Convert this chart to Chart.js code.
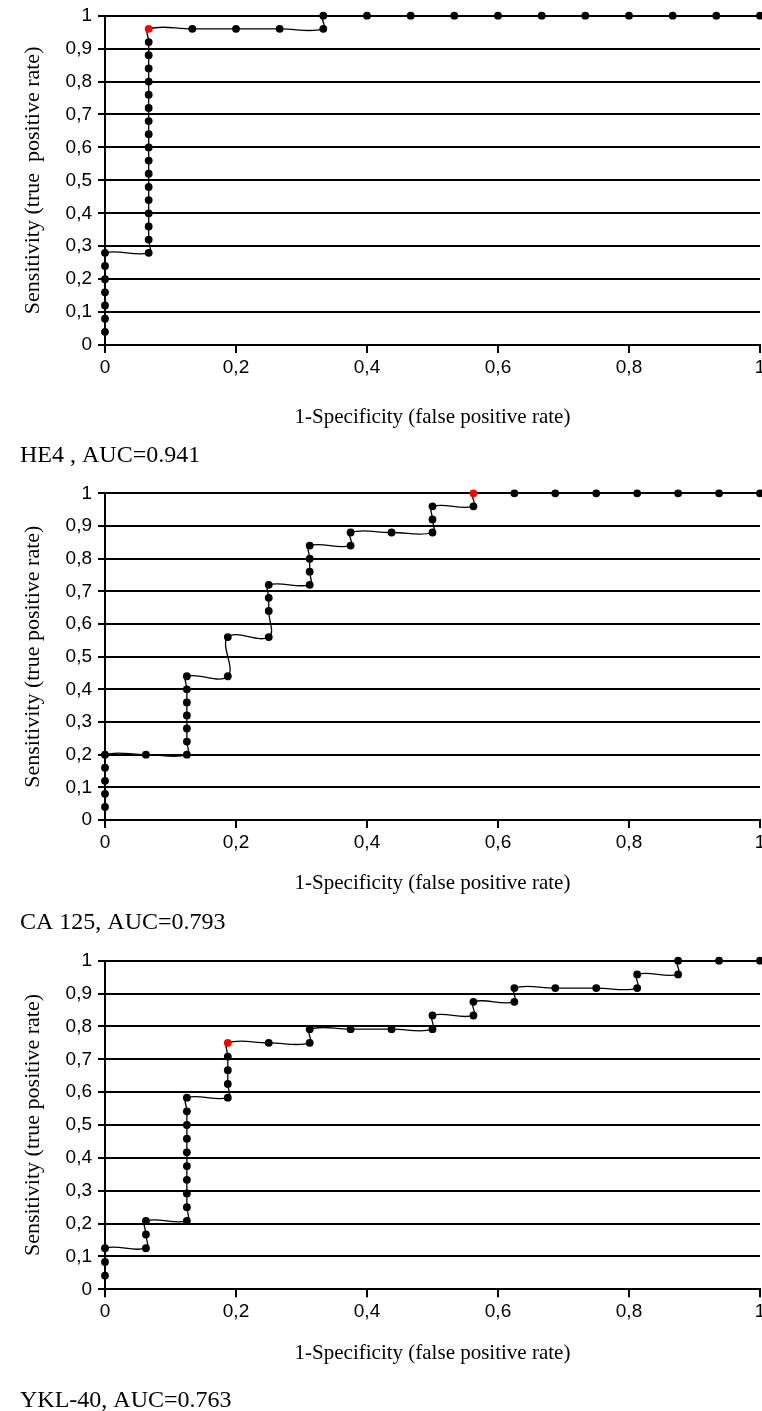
<!DOCTYPE html>
<html>
<head>
<meta charset="utf-8">
<script src="https://cdn.jsdelivr.net/npm/chart.js@4.4.1/dist/chart.umd.min.js"></script>
<style>
html,body{margin:0;padding:0;background:#fff;overflow:hidden;width:762px;height:1411px;}
canvas{position:absolute;left:0;}
</style>
</head>
<body>
<canvas id="c1"></canvas>
<canvas id="c2"></canvas>
<canvas id="c3"></canvas>
<script>
// ---------- text ----------
const xTickLabels = ['0', '0,2', '0,4', '0,6', '0,8', '1'];
const yTickLabels = ['0', '0,1', '0,2', '0,3', '0,4', '0,5', '0,6', '0,7', '0,8', '0,9', '1'];
const xAxisTitle = '1-Specificity (false positive rate)';
const yAxisTitles = ['Sensitivity (true  positive rate)', 'Sensitivity (true positive rate)', 'Sensitivity (true positive rate)'];
const panelLabels = ['HE4 , AUC=0.941', 'CA 125, AUC=0.793', 'YKL-40, AUC=0.763'];

// ---------- HE4 ----------
const he4X = [0, 0, 0, 0, 0, 0, 0,
  0.0667, 0.0667, 0.0667, 0.0667, 0.0667, 0.0667, 0.0667, 0.0667, 0.0667,
  0.0667, 0.0667, 0.0667, 0.0667, 0.0667, 0.0667, 0.0667, 0.0667, 0.0667,
  0.1333, 0.2, 0.2667, 0.3333, 0.3333,
  0.4, 0.4667, 0.5333, 0.6, 0.6667, 0.7333, 0.8, 0.8667, 0.9333, 1];
const he4Y = [0.04, 0.08, 0.12, 0.16, 0.20, 0.24, 0.28,
  0.28, 0.32, 0.36, 0.40, 0.44, 0.48, 0.52, 0.56, 0.60,
  0.64, 0.68, 0.72, 0.76, 0.80, 0.84, 0.88, 0.92, 0.96,
  0.96, 0.96, 0.96, 0.96, 1,
  1, 1, 1, 1, 1, 1, 1, 1, 1, 1];
const he4Cutoff = 24;

// ---------- CA 125 ----------
const ca125X = [0, 0, 0, 0, 0,
  0.0625,
  0.125, 0.125, 0.125, 0.125, 0.125, 0.125, 0.125,
  0.1875, 0.1875,
  0.25, 0.25, 0.25, 0.25,
  0.3125, 0.3125, 0.3125, 0.3125,
  0.375, 0.375,
  0.4375,
  0.5, 0.5, 0.5,
  0.5625, 0.5625,
  0.625, 0.6875, 0.75, 0.8125, 0.875, 0.9375, 1];
const ca125Y = [0.04, 0.08, 0.12, 0.16, 0.20,
  0.20,
  0.20, 0.24, 0.28, 0.32, 0.36, 0.40, 0.44,
  0.44, 0.56,
  0.56, 0.64, 0.68, 0.72,
  0.72, 0.76, 0.80, 0.84,
  0.84, 0.88,
  0.88,
  0.88, 0.92, 0.96,
  0.96, 1,
  1, 1, 1, 1, 1, 1, 1];
const ca125Cutoff = 30;

// ---------- YKL-40 ----------
const ykl40X = [0, 0, 0,
  0.0625, 0.0625, 0.0625,
  0.125, 0.125, 0.125, 0.125, 0.125, 0.125, 0.125, 0.125, 0.125, 0.125,
  0.1875, 0.1875, 0.1875, 0.1875, 0.1875,
  0.25,
  0.3125, 0.3125,
  0.375, 0.4375,
  0.5, 0.5,
  0.5625, 0.5625,
  0.625, 0.625,
  0.6875, 0.75,
  0.8125, 0.8125,
  0.875, 0.875,
  0.9375, 1];
const ykl40Y = [0.0417, 0.0833, 0.125,
  0.125, 0.1667, 0.2083,
  0.2083, 0.25, 0.2917, 0.3333, 0.375, 0.4167, 0.4583, 0.5, 0.5417, 0.5833,
  0.5833, 0.625, 0.6667, 0.7083, 0.75,
  0.75,
  0.75, 0.7917,
  0.7917, 0.7917,
  0.7917, 0.8333,
  0.8333, 0.875,
  0.875, 0.9167,
  0.9167, 0.9167,
  0.9167, 0.9583,
  0.9583, 1,
  1, 1];
const ykl40Cutoff = 20;

const seriesX = [he4X, ca125X, ykl40X];
const seriesY = [he4Y, ca125Y, ykl40Y];
const cutoffs = [he4Cutoff, ca125Cutoff, ykl40Cutoff];

// ---------- layout (pixel placement only) ----------
const panels = [
  {id: 'c1', top: 0,   height: 470, plotTop: 15.7, plotBottom: 345,   xTitleOff: 72,   labelCenter: 456},
  {id: 'c2', top: 470, height: 470, plotTop: 23.3, plotBottom: 350,   xTitleOff: 63,   labelCenter: 453},
  {id: 'c3', top: 940, height: 480, plotTop: 20.7, plotBottom: 349.3, xTitleOff: 63.7, labelCenter: 461}
];
const W = 762, PLOT_LEFT = 105, PAD_LEFT = 20, PAD_RIGHT = 2;
const X_TITLE_SIZE = 21, Y_TITLE_SIZE = 22, LABEL_SIZE = 24, TICK_SIZE = 19;

panels.forEach((p, i) => {
  const cv = document.getElementById(p.id);
  cv.width = W; cv.height = p.height;
  cv.style.width = W + 'px'; cv.style.height = p.height + 'px';
  cv.style.top = p.top + 'px';

  const xAxisH = p.xTitleOff + X_TITLE_SIZE * 1.2 / 2;
  const labelPadTop = p.labelCenter - (p.plotBottom + xAxisH) - LABEL_SIZE / 2;
  const padBottom = p.height - (p.labelCenter + LABEL_SIZE / 2);

  const pts = seriesX[i].map((x, k) => ({x: x, y: seriesY[i][k]}));
  const colors = seriesX[i].map((x, k) => k === cutoffs[i] ? '#ff0000' : '#000000');

  new Chart(cv, {
    type: 'line',
    data: {
      datasets: [{
        data: pts,
        borderColor: '#000',
        borderWidth: 1.3,
        tension: 0.4,
        pointRadius: 3.9,
        pointHoverRadius: 3.9,
        pointBorderWidth: 0,
        pointBackgroundColor: colors,
        pointBorderColor: colors,
        clip: false,
        fill: false
      }]
    },
    options: {
      responsive: false,
      animation: false,
      events: [],
      layout: {autoPadding: false, padding: {left: PAD_LEFT, right: PAD_RIGHT, top: p.plotTop, bottom: padBottom}},
      plugins: {
        legend: {display: false},
        tooltip: {enabled: false},
        title: {
          display: true,
          text: panelLabels[i],
          position: 'bottom',
          align: 'start',
          color: '#000',
          font: {family: 'Liberation Serif', size: LABEL_SIZE, weight: 'normal', lineHeight: 1},
          padding: {top: labelPadTop, bottom: 0}
        }
      },
      scales: {
        x: {
          type: 'linear',
          min: 0, max: 1,
          grid: {display: true, drawOnChartArea: false, drawTicks: true, tickLength: 8, color: '#000', lineWidth: 2},
          border: {display: true, color: '#000', width: 2},
          ticks: {
            stepSize: 0.2, padding: 3, color: '#000', maxRotation: 0, autoSkip: false,
            font: {family: 'Liberation Sans', size: TICK_SIZE, lineHeight: 1.2},
            callback: (v) => xTickLabels[Math.round(v * 5)]
          },
          title: {
            display: true, text: xAxisTitle, color: '#000',
            font: {family: 'Liberation Serif', size: X_TITLE_SIZE, lineHeight: 1.2},
            padding: {top: 0, bottom: 0}
          },
          afterFit: (s) => { s.height = xAxisH; s.paddingLeft = 0; s.paddingRight = 0; }
        },
        y: {
          type: 'linear',
          min: 0, max: 1,
          grid: {display: true, drawOnChartArea: true, drawTicks: true, tickLength: 7, color: '#000', lineWidth: 2},
          border: {display: true, color: '#000', width: 2},
          ticks: {
            stepSize: 0.1, padding: 6, color: '#000', autoSkip: false,
            font: {family: 'Liberation Sans', size: TICK_SIZE, lineHeight: 1.2},
            callback: (v) => yTickLabels[Math.round(v * 10)]
          },
          title: {
            display: true, text: yAxisTitles[i], color: '#000',
            font: {family: 'Liberation Serif', size: Y_TITLE_SIZE, lineHeight: 1.2},
            padding: {top: 0, bottom: 0}
          },
          afterFit: (s) => { s.width = PLOT_LEFT - PAD_LEFT; s.paddingTop = 0; s.paddingBottom = 0; }
        }
      }
    }
  });
});
</script>
</body>
</html>
